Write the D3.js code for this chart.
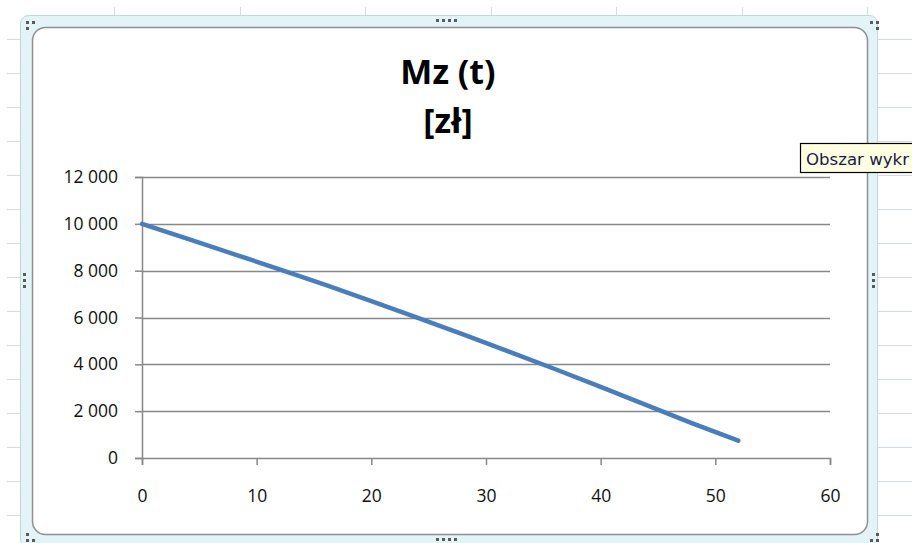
<!DOCTYPE html>
<html>
<head>
<meta charset="utf-8">
<script src="https://cdn.jsdelivr.net/npm/d3@7"></script>
<style>
html,body{margin:0;padding:0;background:#fff;}
svg{display:block;}
</style>
</head>
<body>
<svg id="c" width="912" height="543"></svg>
<script>
// ---- data ----
const titleLines = ["Mz (t)", "[zł]"];
const tWeeks = [0, 4, 8, 12, 16, 20, 24, 28, 32, 36, 40, 44, 48, 52];
const mzValues = [10000, 9360, 8710, 8060, 7390, 6700, 5990, 5280, 4540, 3800, 3040, 2260, 1480, 740];
const xTicks = [0, 10, 20, 30, 40, 50, 60];
const yTicks = [0, 2000, 4000, 6000, 8000, 10000, 12000];
const tooltipText = "Obszar wykr";

const svg = d3.select("#c");
const W = 912, H = 543;

// spreadsheet grid background
const sheet = svg.append("g");
const rowYs = d3.range(39, H, 34);
const colXs = d3.range(114, W, 125.5);
sheet.selectAll("line.r").data(rowYs).join("line")
  .attr("x1", 7).attr("x2", W).attr("y1", d => d + 0.5).attr("y2", d => d + 0.5)
  .attr("stroke", "#d4dbe8").attr("stroke-width", 1);
sheet.selectAll("line.c").data(colXs).join("line")
  .attr("x1", d => Math.round(d) + 0.5).attr("x2", d => Math.round(d) + 0.5).attr("y1", 7).attr("y2", H)
  .attr("stroke", "#d4dbe8").attr("stroke-width", 1);

// chart frame
svg.append("rect").attr("x", 20.5).attr("y", 15.5).attr("width", 857).attr("height", 532)
  .attr("rx", 8).attr("fill", "#e3f4f8").attr("stroke", "#c5d6da");
svg.append("rect").attr("x", 32.5).attr("y", 27.5).attr("width", 835).attr("height", 507)
  .attr("rx", 13).attr("fill", "#fff").attr("stroke", "#909090").attr("stroke-width", 1.5);

// handles
const handleDots = [
  [27,22],[33,22],[27,28],
  [871,22],[877,22],[877,28] ,
  [27,534],[27,540],[33,540],
  [877,534],[871,540],[877,540],
  [437,20],[443,20],[449,20],[455,20],
  [437,539],[443,539],[449,539],[455,539],
  [24,274],[24,280],[24,286],
  [873,274],[873,280],[873,286]
];
svg.append("g").selectAll("rect").data(handleDots).join("rect")
  .attr("x", d => d[0] - 1).attr("y", d => d[1] - 1).attr("width", 3).attr("height", 3)
  .attr("fill", "#5a5a5a");

// scales
const x = d3.scaleLinear().domain([0, 60]).range([142, 830]);
const y = d3.scaleLinear().domain([0, 12000]).range([458, 177]);

const fmt = v => d3.format(",")(v).replace(/,/g, " ");

// gridlines
svg.append("g").selectAll("line").data(yTicks.filter(d => d > 0)).join("line")
  .attr("x1", x(0)).attr("x2", x(60))
  .attr("y1", d => Math.round(y(d)) + 0.5).attr("y2", d => Math.round(y(d)) + 0.5)
  .attr("stroke", "#888").attr("stroke-width", 1.3);

// y axis
const yAxis = svg.append("g").attr("transform", `translate(${x(0)},0)`)
  .call(d3.axisLeft(y).tickValues(yTicks).tickSize(7).tickPadding(17).tickFormat(fmt));
// x axis
const xAxis = svg.append("g").attr("transform", `translate(0,${y(0)})`)
  .call(d3.axisBottom(x).tickValues(xTicks).tickSize(7).tickPadding(25).tickFormat(d3.format("d")));
[yAxis, xAxis].forEach(a => {
  a.select(".domain").attr("stroke", "#888").attr("stroke-width", 1.5);
  a.selectAll(".tick line").attr("stroke", "#888").attr("stroke-width", 1.5);
  a.selectAll("text").attr("font-family", "'Open Sans', 'DejaVu Sans', sans-serif")
    .attr("font-size", 17.5).attr("fill", "#111");
});

// line
const line = d3.line().x((d, i) => x(tWeeks[i])).y(d => y(d));
svg.append("path").datum(mzValues).attr("d", line)
  .attr("fill", "none").attr("stroke", "#4a7ebb").attr("stroke-width", 4.5)
  .attr("stroke-linecap", "round").attr("stroke-linejoin", "round");

// title
svg.append("g").selectAll("text").data(titleLines).join("text")
  .attr("x", 448).attr("y", (d, i) => 84 + i * 49)
  .attr("text-anchor", "middle")
  .attr("font-family", "'Open Sans', 'Liberation Sans', sans-serif")
  .attr("font-weight", "bold").attr("font-size", 34).attr("fill", "#000")
  .text(d => d);

// tooltip
const tip = svg.append("g");
tip.append("rect").attr("x", 800.5).attr("y", 143.5).attr("width", 130).attr("height", 29)
  .attr("fill", "#ffffe1").attr("stroke", "#000").attr("stroke-width", 1.2);
tip.append("text").attr("x", 806).attr("y", 164.5)
  .attr("font-family", "'DejaVu Sans', sans-serif").attr("font-size", 16.6).attr("fill", "#1a1a4a")
  .text(tooltipText);
</script>
</body>
</html>
